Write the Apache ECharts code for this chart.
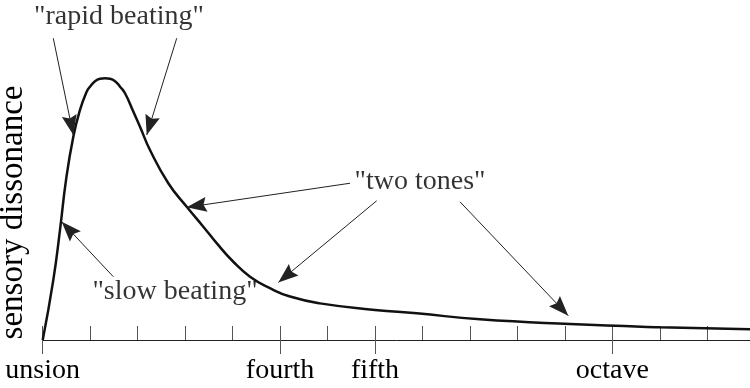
<!DOCTYPE html>
<html>
<head>
<meta charset="utf-8">
<title>Sensory dissonance curve</title>
<script src="https://cdn.jsdelivr.net/npm/echarts@6/dist/echarts.min.js"></script>
<style>
  html, body { margin: 0; padding: 0; background: #fff; }
  #chart { width: 750px; height: 388px; }
</style>
</head>
<body>
<div id="chart"></div>
<script>
// Interval between the two tones, in semitones
const semitones = [0, 0.223, 0.364, 0.491, 0.645, 0.786, 0.927, 0.996, 1.102, 1.207, 1.312, 1.418,
  1.524, 1.629, 1.734, 1.909, 2.050, 2.260, 2.646, 3.034, 3.383, 3.665, 4.015, 4.367, 4.788, 5.210,
  5.842, 7.0, 7.879, 9.212, 11.108, 13.004, 14.9];
// Sensory dissonance, peak normalised to 1
const dissonance = [0, 0.229, 0.420, 0.611, 0.777, 0.879, 0.949, 0.968, 0.989, 0.998, 1.0, 0.998,
  0.989, 0.968, 0.943, 0.873, 0.815, 0.726, 0.599, 0.509, 0.433, 0.370, 0.299, 0.242, 0.198, 0.166,
  0.140, 0.115, 0.102, 0.079, 0.061, 0.049, 0.041];

// Semitone ticks and the named intervals
const tickValues = [0, 1, 2, 3, 4, 5, 6, 7, 8, 9, 10, 11, 12, 13, 14];
const namedValues = [0, 5, 7, 12];
const namedLabels = ['unsion', 'fourth', 'fifth', 'octave'];

// Annotation texts and where they sit (semitones, dissonance)
const noteTexts = ['"rapid beating"', '"two tones"', '"slow beating"'];
const notePositions = [[1.607, 1.236], [7.948, 0.606], [2.787, 0.183]];

// Arrows from the annotations to the curve
const arrowFrom = [[0.223, 1.153], [2.823, 1.153], [1.487, 0.242], [6.474, 0.599], [7.036, 0.532], [8.791, 0.528]];
const arrowTo = [[0.645, 0.783], [2.191, 0.783], [0.400, 0.452], [3.033, 0.507], [4.963, 0.220], [11.072, 0.093]];

const SERIF = '"Liberation Serif", "Times New Roman", Times, serif';
const XMAX = 14.9;
const YMAX = 1.25;

// Filled arrow head with a shallow notch, tip at the top centre
const ARROW_HEAD = 'path://M10 0 L20 20 L10 17 L0 20 Z';
const HEAD_W = 15;
const HEAD_H = 20;

const gridBox = { left: 42.7, right: 0, top: 12.875, bottom: 48 };

const chart = echarts.init(document.getElementById('chart'), null, { renderer: 'canvas' });

chart.setOption({
  animation: false,
  backgroundColor: '#ffffff',
  grid: [Object.assign({}, gridBox), Object.assign({}, gridBox)],
  xAxis: [
    {
      gridIndex: 0, type: 'value', min: 0, max: XMAX, interval: 1,
      splitLine: { show: false },
      axisLine: { show: true, lineStyle: { color: '#222', width: 1 } },
      axisTick: { show: true, inside: true, length: 14, customValues: tickValues,
        lineStyle: { color: '#555', width: 1 } },
      axisLabel: { show: false }
    },
    {
      gridIndex: 1, type: 'value', min: 0, max: XMAX, interval: 1,
      splitLine: { show: false },
      axisLine: { show: false },
      axisTick: { show: true, inside: false, length: 14, customValues: namedValues,
        lineStyle: { color: '#555', width: 1 } },
      axisLabel: {
        show: true, customValues: namedValues, margin: 17,
        fontFamily: SERIF, fontSize: 28, color: '#000',
        formatter: function (v) {
          const i = namedValues.indexOf(Math.round(v));
          return i >= 0 ? namedLabels[i] : '';
        }
      }
    }
  ],
  yAxis: [
    { gridIndex: 0, type: 'value', min: 0, max: YMAX, show: false },
    { gridIndex: 1, type: 'value', min: 0, max: YMAX, show: false }
  ],
  graphic: [
    {
      type: 'text', x: 13, y: 212.5, rotation: Math.PI / 2,
      style: {
        text: 'sensory dissonance', font: '33px ' + SERIF, fill: '#000',
        textAlign: 'center', textVerticalAlign: 'middle'
      }
    }
  ],
  series: [
    {
      type: 'line', xAxisIndex: 0, yAxisIndex: 0,
      data: semitones.map((s, i) => [s, dissonance[i]]),
      smooth: 0.5, showSymbol: false, clip: false,
      lineStyle: { color: '#111', width: 2.5 },
      markLine: {
        silent: true, animation: false,
        symbol: ['none', ARROW_HEAD],
        symbolSize: [HEAD_W, HEAD_H],
        symbolOffset: [[0, 0], [0, HEAD_H / 2]],
        label: { show: false },
        lineStyle: { color: '#222', width: 1, type: 'solid' },
        itemStyle: { color: '#222' },
        data: arrowFrom.map((f, i) => [{ coord: f }, { coord: arrowTo[i] }])
      }
    },
    {
      type: 'scatter', xAxisIndex: 0, yAxisIndex: 0,
      symbolSize: 1, itemStyle: { color: 'transparent' },
      data: notePositions.map((p, i) => ({ value: p, name: noteTexts[i] })),
      label: {
        show: true, position: 'inside', formatter: '{b}',
        fontFamily: SERIF, fontSize: 28, color: '#000',
        align: 'center', verticalAlign: 'middle'
      }
    }
  ]
});
</script>
</body>
</html>
